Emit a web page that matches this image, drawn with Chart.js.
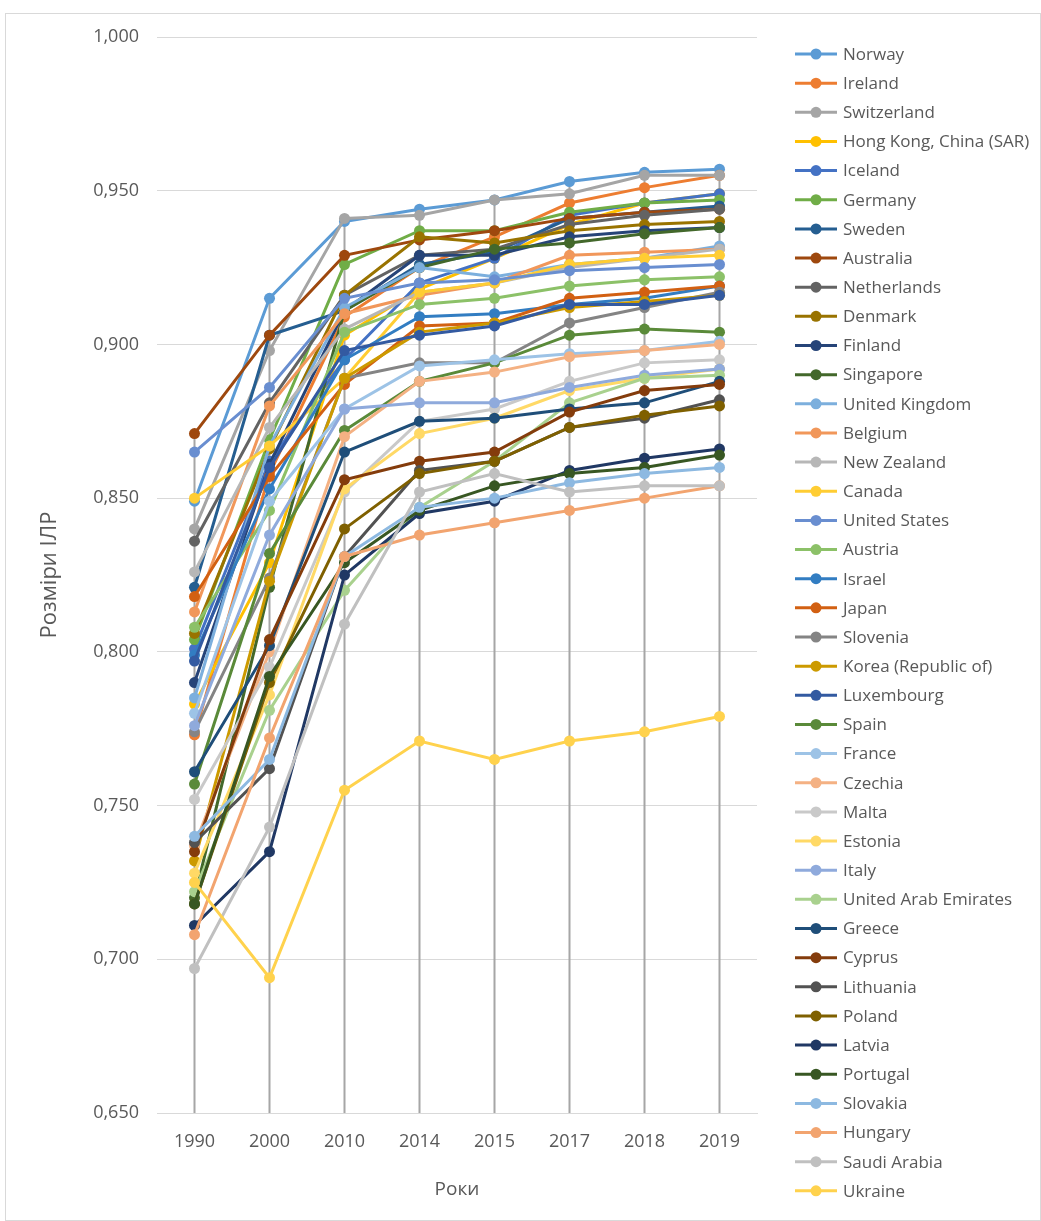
<!DOCTYPE html>
<html>
<head>
<meta charset="utf-8">
<script src="https://cdn.jsdelivr.net/npm/chart.js@4.4.1/dist/chart.umd.min.js"></script>
<style>
  body { margin: 0; background: #fff; }
  #box { position: absolute; left: 5px; top: 13px; width: 1034px; height: 1206px; border: 1px solid #d9d9d9; }
  #box canvas { display: block; }
</style>
</head>
<body>
<div id="box"><canvas id="grafico" width="1034" height="1206"></canvas></div>
<script>
// HDI values per country, years on the category axis
const years = ["1990", "2000", "2010", "2014", "2015", "2017", "2018", "2019"];
const yTicks = [0.65, 0.70, 0.75, 0.80, 0.85, 0.90, 0.95, 1.00];

const countries = ["Norway", "Ireland", "Switzerland", "Hong Kong, China (SAR)", "Iceland", "Germany",
  "Sweden", "Australia", "Netherlands", "Denmark", "Finland", "Singapore", "United Kingdom", "Belgium",
  "New Zealand", "Canada", "United States", "Austria", "Israel", "Japan", "Slovenia", "Korea (Republic of)",
  "Luxembourg", "Spain", "France", "Czechia", "Malta", "Estonia", "Italy", "United Arab Emirates", "Greece",
  "Cyprus", "Lithuania", "Poland", "Latvia", "Portugal", "Slovakia", "Hungary", "Saudi Arabia", "Ukraine"];

const norway      = [0.849, 0.915, 0.940, 0.944, 0.947, 0.953, 0.956, 0.957];
const ireland     = [0.773, 0.858, 0.909, 0.925, 0.935, 0.946, 0.951, 0.955];
const switzerland = [0.840, 0.898, 0.941, 0.942, 0.947, 0.949, 0.955, 0.955];
const hongKong    = [0.783, 0.829, 0.903, 0.918, 0.928, 0.939, 0.946, 0.949];
const iceland     = [0.801, 0.862, 0.895, 0.920, 0.928, 0.942, 0.946, 0.949];
const germany     = [0.804, 0.869, 0.926, 0.937, 0.937, 0.943, 0.946, 0.947];
const sweden      = [0.821, 0.903, 0.911, 0.926, 0.930, 0.941, 0.943, 0.945];
const australia   = [0.871, 0.903, 0.929, 0.934, 0.937, 0.941, 0.943, 0.944];
const netherlands = [0.836, 0.881, 0.916, 0.929, 0.931, 0.939, 0.942, 0.944];
const denmark     = [0.806, 0.866, 0.916, 0.935, 0.933, 0.937, 0.939, 0.940];
const finland     = [0.790, 0.861, 0.911, 0.929, 0.929, 0.935, 0.937, 0.938];
const singapore   = [0.720, 0.821, 0.911, 0.925, 0.931, 0.933, 0.936, 0.938];
const uk          = [0.785, 0.867, 0.912, 0.925, 0.922, 0.926, 0.928, 0.932];
const belgium     = [0.813, 0.880, 0.910, 0.916, 0.920, 0.929, 0.930, 0.931];
const newZealand  = [0.826, 0.873, 0.905, 0.917, 0.920, 0.925, 0.928, 0.931];
const canada      = [0.850, 0.867, 0.889, 0.917, 0.920, 0.926, 0.928, 0.929];
const usa         = [0.865, 0.886, 0.915, 0.920, 0.921, 0.924, 0.925, 0.926];
const austria     = [0.808, 0.846, 0.904, 0.913, 0.915, 0.919, 0.921, 0.922];
const israel      = [0.799, 0.853, 0.895, 0.909, 0.910, 0.913, 0.915, 0.919];
const japan       = [0.818, 0.857, 0.887, 0.906, 0.907, 0.915, 0.917, 0.919];
const slovenia    = [0.774, 0.824, 0.889, 0.894, 0.894, 0.907, 0.912, 0.917];
const korea       = [0.732, 0.823, 0.889, 0.904, 0.907, 0.912, 0.914, 0.916];
const luxembourg  = [0.797, 0.860, 0.898, 0.903, 0.906, 0.913, 0.913, 0.916];
const spain       = [0.757, 0.832, 0.872, 0.888, 0.894, 0.903, 0.905, 0.904];
const france      = [0.780, 0.849, 0.879, 0.893, 0.895, 0.897, 0.898, 0.901];
const czechia     = [0.737, 0.800, 0.870, 0.888, 0.891, 0.896, 0.898, 0.900];
const malta       = [0.752, 0.795, 0.852, 0.875, 0.879, 0.888, 0.894, 0.895];
const estonia     = [0.728, 0.786, 0.853, 0.871, 0.876, 0.885, 0.889, 0.892];
const italy       = [0.776, 0.838, 0.879, 0.881, 0.881, 0.886, 0.890, 0.892];
const uae         = [0.722, 0.781, 0.820, 0.847, 0.862, 0.881, 0.889, 0.890];
const greece      = [0.761, 0.802, 0.865, 0.875, 0.876, 0.879, 0.881, 0.888];
const cyprus      = [0.735, 0.804, 0.856, 0.862, 0.865, 0.878, 0.885, 0.887];
const lithuania   = [0.738, 0.762, 0.831, 0.859, 0.862, 0.873, 0.876, 0.882];
const poland      = [0.718, 0.790, 0.840, 0.858, 0.862, 0.873, 0.877, 0.880];
const latvia      = [0.711, 0.735, 0.825, 0.845, 0.849, 0.859, 0.863, 0.866];
const portugal    = [0.718, 0.792, 0.829, 0.846, 0.854, 0.858, 0.860, 0.864];
const slovakia    = [0.740, 0.765, 0.831, 0.847, 0.850, 0.855, 0.858, 0.860];
const hungary     = [0.708, 0.772, 0.831, 0.838, 0.842, 0.846, 0.850, 0.854];
const saudiArabia = [0.697, 0.743, 0.809, 0.852, 0.858, 0.852, 0.854, 0.854];
const ukraine     = [0.725, 0.694, 0.755, 0.771, 0.765, 0.771, 0.774, 0.779];

const series = [norway, ireland, switzerland, hongKong, iceland, germany, sweden, australia, netherlands,
  denmark, finland, singapore, uk, belgium, newZealand, canada, usa, austria, israel, japan, slovenia, korea,
  luxembourg, spain, france, czechia, malta, estonia, italy, uae, greece, cyprus, lithuania, poland, latvia,
  portugal, slovakia, hungary, saudiArabia, ukraine];

// excel office palette, 40 series
const colors = ["#5B9BD5", "#ED7D31", "#A5A5A5", "#FFC000", "#4472C4", "#70AD47",
  "#255E91", "#9E480E", "#636363", "#997300", "#264478", "#43682B",
  "#7CAFDD", "#F1975A", "#B7B7B7", "#FFCD33", "#698ED0", "#8CC168",
  "#327DC2", "#D26012", "#848484", "#CC9A00", "#335AA1", "#5A8A39",
  "#9DC3E6", "#F4B183", "#C9C9C9", "#FFD966", "#8FAADC", "#A9D18E",
  "#1F4E79", "#843C0C", "#525252", "#7F6000", "#203864", "#385723",
  "#8DB9E1", "#F2A46F", "#C0C0C0", "#FFD24D"];

const fonte = "'Open Sans', sans-serif";
const cinza = "#595959";

// vertical drop lines from the highest point of each year to the axis
const dropLines = {
  id: 'dropLines',
  beforeDatasetsDraw(chart) {
    const ctx = chart.ctx;
    const x = chart.scales.x, y = chart.scales.y;
    ctx.save();
    ctx.strokeStyle = "#a6a6a6";
    ctx.lineWidth = 2;
    years.forEach(function(ano, i) {
      let topo = Math.max.apply(null, series.map(s => s[i]));
      let px = x.getPixelForValue(i);
      ctx.beginPath();
      ctx.moveTo(px, y.getPixelForValue(topo));
      ctx.lineTo(px, y.getPixelForValue(yTicks[0]));
      ctx.stroke();
    });
    ctx.restore();
  }
};

// legend on the right, line + marker like excel
const legenda = {
  id: 'legenda',
  afterDraw(chart) {
    const ctx = chart.ctx;
    ctx.save();
    ctx.font = "17px " + fonte;
    ctx.textBaseline = "middle";
    countries.forEach(function(nome, i) {
      let ly = 40 + i * 29.15;
      ctx.strokeStyle = colors[i];
      ctx.lineWidth = 3;
      ctx.beginPath();
      ctx.moveTo(789, ly);
      ctx.lineTo(831, ly);
      ctx.stroke();
      ctx.fillStyle = colors[i];
      ctx.beginPath();
      ctx.arc(810, ly, 5.5, 0, Math.PI * 2);
      ctx.fill();
      ctx.fillStyle = cinza;
      ctx.fillText(nome, 837, ly + 1);
    });
    ctx.restore();
  }
};

function montaGrafico() {
  let datasets = countries.map(function(nome, i) {
    return {
      label: nome,
      data: series[i],
      borderColor: colors[i],
      backgroundColor: colors[i],
      borderWidth: 3,
      pointRadius: 5.5,
      pointBorderWidth: 0,
      pointBackgroundColor: colors[i],
      tension: 0,
      order: countries.length - i
    };
  });

  const ctx = document.getElementById('grafico').getContext('2d');
  new Chart(ctx, {
    type: 'line',
    data: { labels: years, datasets: datasets },
    options: {
      responsive: false,
      animation: false,
      layout: { padding: { left: 0, right: 283, top: 23, bottom: 0 } },
      plugins: { legend: { display: false }, tooltip: { enabled: false } },
      scales: {
        x: {
          offset: true,
          grid: { display: false },
          border: { display: true, color: "#d9d9d9" },
          ticks: { color: cinza, font: { family: fonte, size: 18 }, padding: 10 },
          title: { display: true, text: "Роки", color: cinza, font: { family: fonte, size: 19 }, padding: { top: 4, bottom: 19 } },
          afterFit: function(scale) { scale.height = 107; }
        },
        y: {
          min: 0.65,
          max: 1.0,
          afterBuildTicks: function(scale) { scale.ticks = yTicks.map(v => ({ value: v })); },
          grid: { color: "#d9d9d9", drawTicks: false },
          border: { display: false },
          ticks: {
            color: cinza,
            font: { family: fonte, size: 18 },
            padding: 18,
            callback: value => value.toFixed(3).replace('.', ',')
          },
          title: { display: true, text: "Розміри ІЛР", color: cinza, font: { family: fonte, size: 22 }, padding: { top: 31 } },
          afterFit: function(scale) {
            scale.width = 151;
            scale.paddingTop = 0;
            scale.paddingBottom = 0;
          }
        }
      }
    },
    plugins: [dropLines, legenda]
  });
}

montaGrafico();
</script>
</body>
</html>
